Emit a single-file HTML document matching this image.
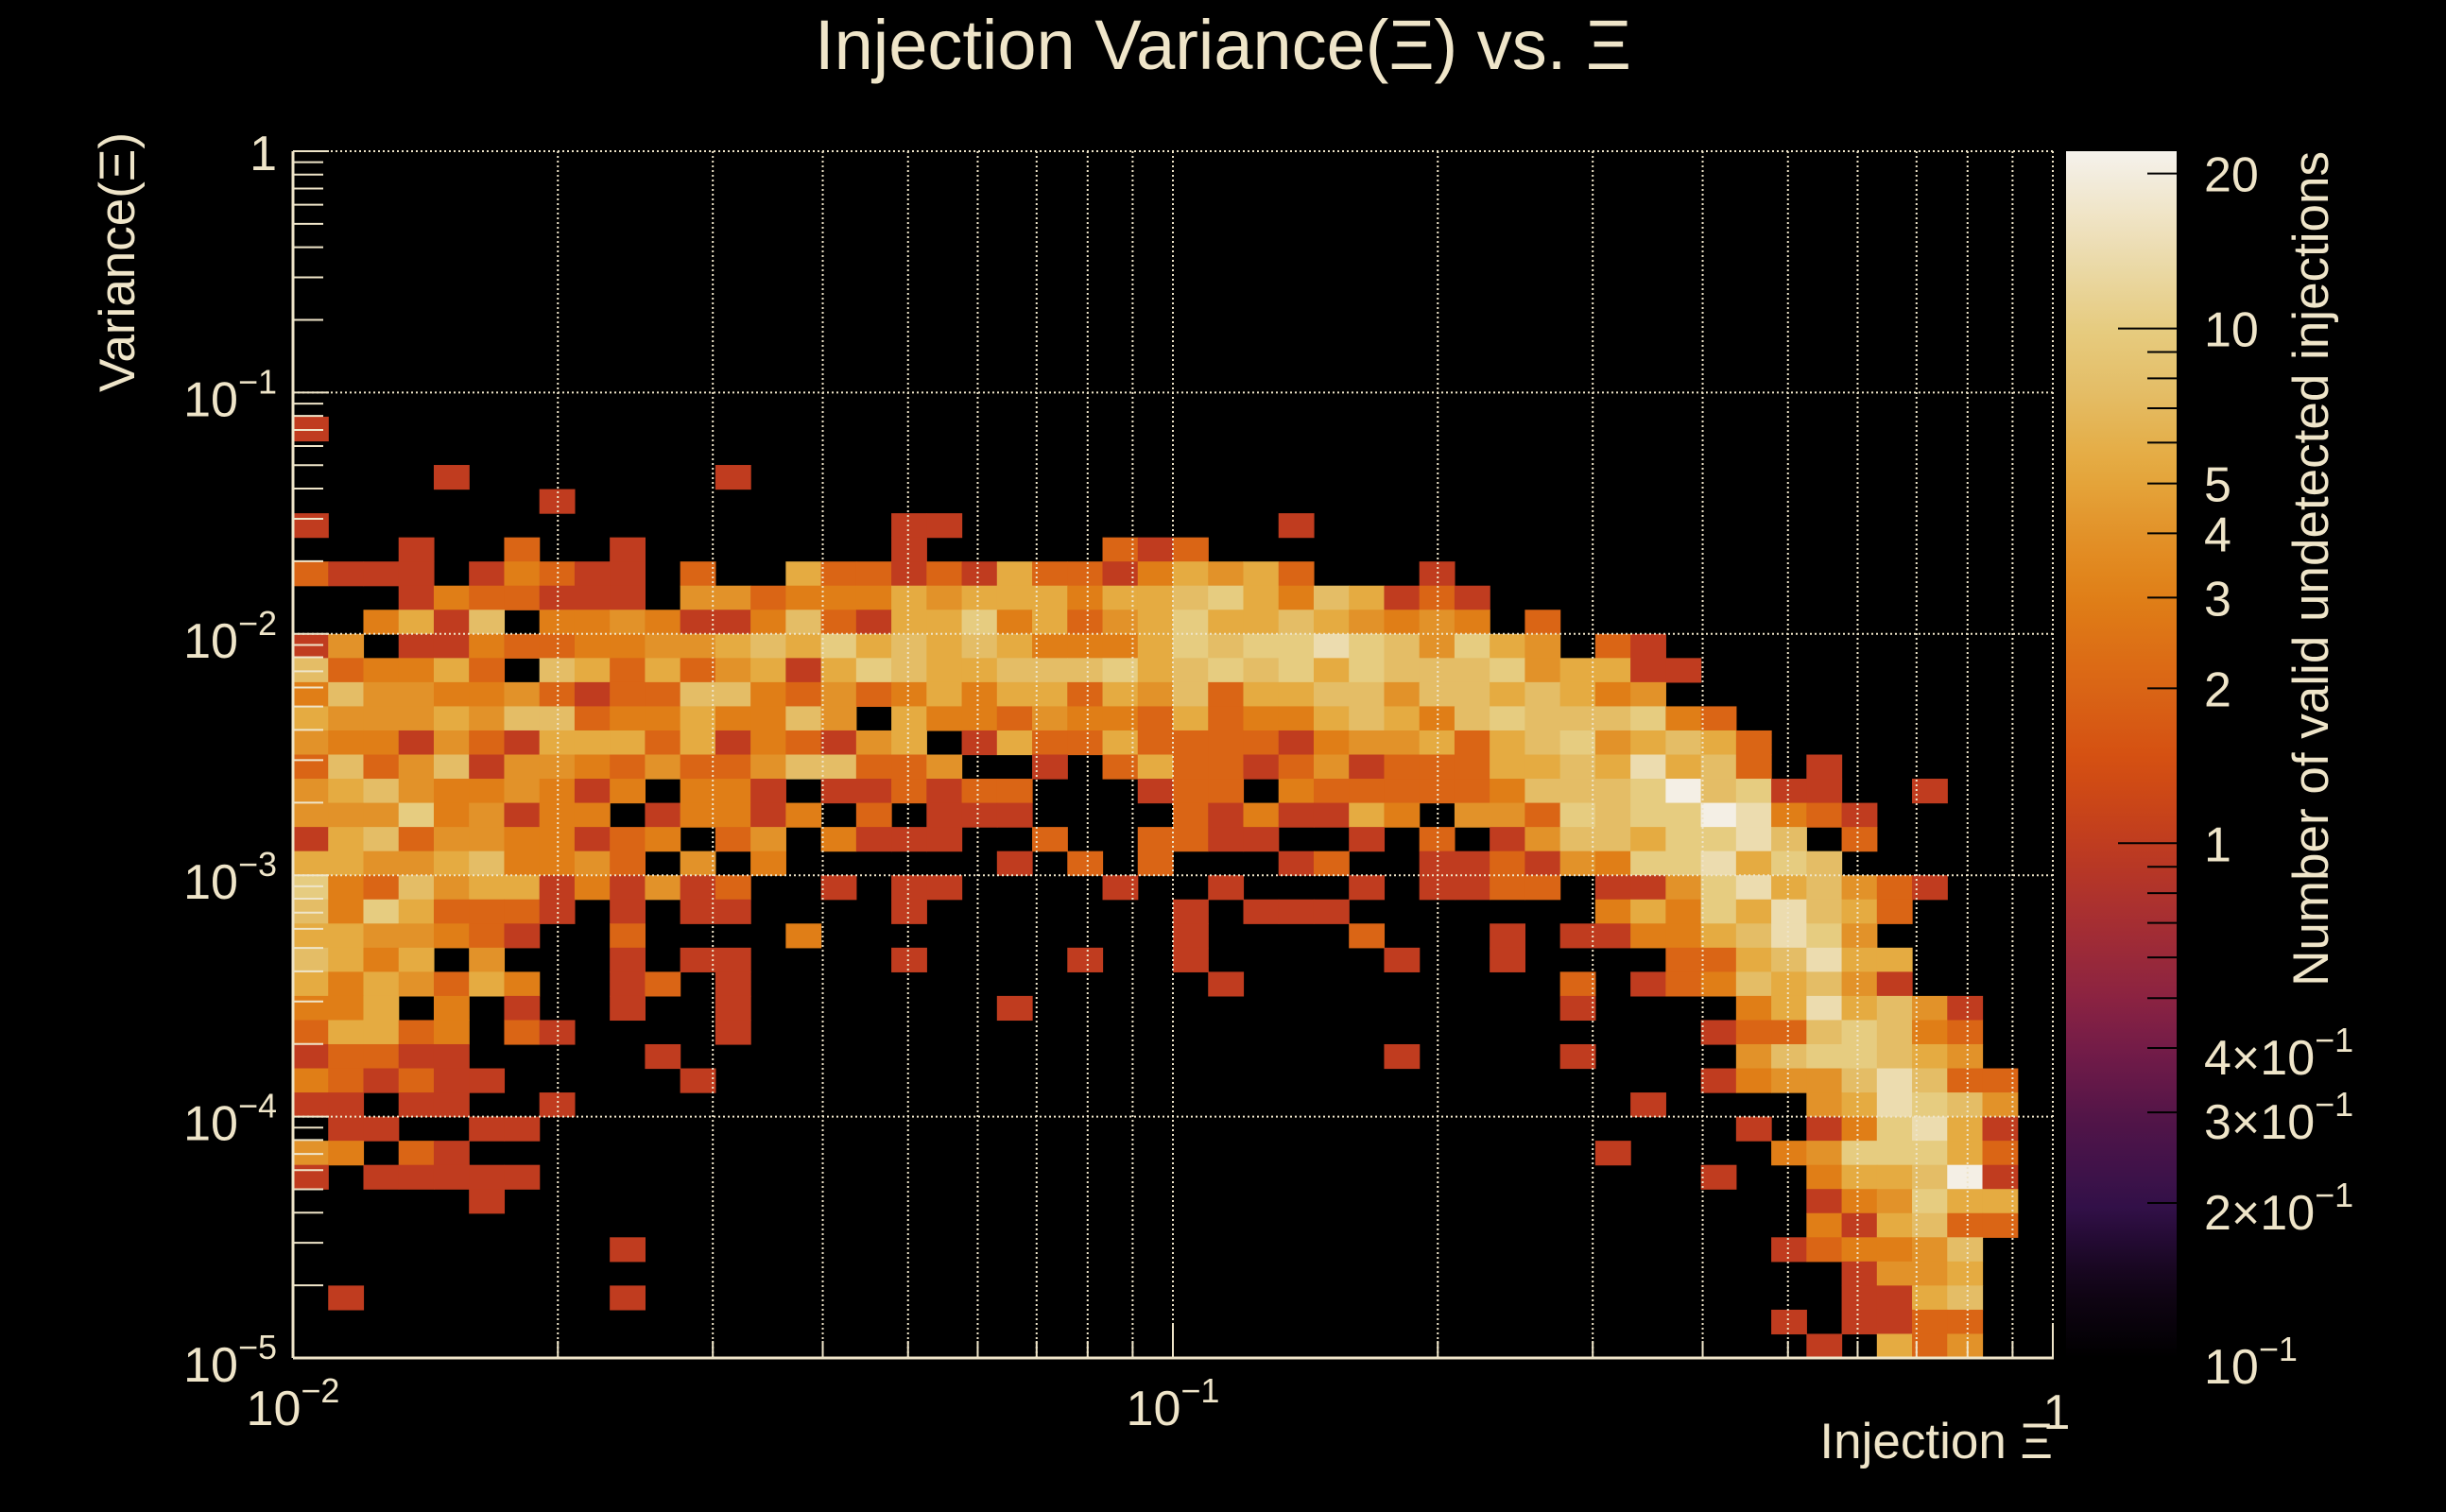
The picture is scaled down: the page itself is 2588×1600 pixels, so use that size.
<!DOCTYPE html>
<html><head><meta charset="utf-8"><title>Injection Variance vs Xi</title>
<style>
html,body{margin:0;padding:0;background:#000;}
svg{display:block;}
text{font-family:"Liberation Sans",sans-serif;fill:#efe5c9;}
</style></head>
<body>
<svg id="chart" width="2588" height="1600" viewBox="0 0 2588 1600" xmlns="http://www.w3.org/2000/svg">
<rect x="0" y="0" width="2588" height="1600" fill="#000"/>
<defs><linearGradient id="cbgrad" x1="0" y1="1" x2="0" y2="0"></linearGradient></defs>
<g id="cells"></g>
<g id="grid"></g>
<g id="axes"></g>
<g id="colorbar"></g>
<text x="1294" y="73" font-size="74" text-anchor="middle">Injection Variance(Ξ) vs. Ξ</text>
<text x="2172" y="1543" font-size="53" text-anchor="end">Injection Ξ</text>
<text transform="translate(142,140) rotate(-90)" font-size="53" text-anchor="end">Variance(Ξ)</text>
<text transform="translate(2463,160) rotate(-90)" font-size="53" text-anchor="end">Number of valid undetected injections</text>
</svg>
<script>
// Heatmap data: 50 rows (top = Variance 1, bottom = 1e-5), 50 log-x bins (0.01..1).
// Each digit is a level code; levelCounts maps code -> count.
const levelCounts = [0, 1, 2, 3, 4, 5.5, 7.5, 10, 14, 21];
const xBinEdgesLog = [-2, 0];
const yBinEdgesLog = [0, -5];
const zRange = [0.1, 22.1];
const Z = "0000000000000000000000000 0000000000000000000000000";
const rows = [
Z,Z,Z,Z,Z,Z,Z,Z,Z,Z,Z,
"1000000000000000000000000 0000000000000000000000000",
Z,
"0000100000001000000000000 0000000000000000000000000",
"0000000100000000000000000 0000000000000000000000000",
"1000000000000000011000000 0001000000000000000000000",
"0001002001000000010000021 2000000000000000000000000",
"2111013211020052212152213 5452000100000000000000000",
"0001322111044233354555355 6753651210000000000000000",
"0035160334311362155735245 7556543430200000000000000",
"1401132233445657565653335 7677876475402100000000000",
"6233520652524515765566675 6767576667455110000000000",
"3644334212266324235355254 6255664665653400000000000",
"5444546623353364053324332 5233565367666732000000000",
"4331421555251321450152252 2221344525674565200000000",
"2624614432422466224001025 2212412225565856201000000",
"4564334313033101121220001 2203222223666796711001000",
"4447341330133130201110000 2131153044276779832100000",
"1562443312302403111002002 2110010201466577860200000",
"5544563342040300000010202 0001200112143778576000000",
"7326455131412001011000010 0100010112201147856421000",
"6375222101011000010000000 1011100000003537586520000",
"5544321002000030000000000 1000020001011335687400000",
"6535040001011000010000100 1000001001000022568550000",
"5354253001201000000000000 0100000000020123656410000",
"3350301001001000000010000 0000000000010000358564100",
"2552302100001000000000000 0000000000000001226763200",
"1221100000100000000000000 0000001000010000467765400",
"3212110000010000000000000 0000000000000001344686220",
"1101100100000000000000000 0000000000000100004587640",
"0110011000000000000000000 0000000000000000101378510",
"4302100000000000000000000 0000000000001000034777520",
"1011111000000000000000000 0000000000000001003556910",
"0000010000000000000000000 0000000000000000001347550",
"0000000000000000000000000 0000000000000000003156220",
"0000000001000000000000000 0000000000000000012334600",
"0000000000000000000000000 0000000000000000000144500",
"0100000001000000000000000 0000000000000000000115600",
"0000000000000000000000000 0000000000000000010112200",
"0000000000000000000000000 0000000000000000001052400"
];
const yTickLabels = ["1", "10", "10", "10", "10", "10"];
const yTickExps = ["", "−1", "−2", "−3", "−4", "−5"];
const xTickLabels = ["10", "10", "1"];
const xTickExps = ["−2", "−1", ""];
const cbTickValues = [0.1, 0.2, 0.3, 0.4, 1, 2, 3, 4, 5, 10, 20];
const cbTickMantissa = ["", "2×", "3×", "4×", "", "", "", "", "", "", ""];
const cbTickBase = ["10", "10", "10", "10", "1", "2", "3", "4", "5", "10", "20"];
const cbTickExp = ["−1", "−1", "−1", "−1", "", "", "", "", "", "", ""];
const cbMinor = [0.5, 0.6, 0.7, 0.8, 0.9, 6, 7, 8, 9];

const NS = "http://www.w3.org/2000/svg";
const P = {x0: 310, x1: 2172, y0: 160, y1: 1437};
const CB = {x0: 2186, x1: 2303};
const NX = 50, NY = 50;
function xPix(v){ const l = Math.log10(v); return P.x0 + (l - xBinEdgesLog[0])/(xBinEdgesLog[1]-xBinEdgesLog[0])*(P.x1-P.x0); }
function yPix(v){ const l = Math.log10(v); return P.y0 + (yBinEdgesLog[0]-l)/(yBinEdgesLog[0]-yBinEdgesLog[1])*(P.y1-P.y0); }
function zT(c){ return Math.log10(c/zRange[0])/Math.log10(zRange[1]/zRange[0]); }
function zPix(c){ return P.y1 - zT(c)*(P.y1-P.y0); }
const stops = [[0,"#000000"],[0.06,"#120517"],[0.128,"#33104a"],[0.2,"#531548"],[0.256,"#741c48"],[0.3,"#8c2341"],[0.36,"#a52e33"],[0.427,"#c03c1f"],[0.49,"#d44e12"],[0.556,"#da6515"],[0.632,"#e07f17"],[0.685,"#e2932a"],[0.74,"#e5aa40"],[0.80,"#e4bd66"],[0.854,"#e6cc80"],[0.917,"#ecdcb0"],[1,"#f5f2ec"]];
function hex(h){ return [1,3,5].map(i=>parseInt(h.substr(i,2),16)); }
function color(t){
  t = Math.max(0, Math.min(1, t));
  for (let i=1;i<stops.length;i++){
    if (t <= stops[i][0]){
      const a = hex(stops[i-1][1]), b = hex(stops[i][1]);
      const f = (t-stops[i-1][0])/(stops[i][0]-stops[i-1][0]);
      return "rgb(" + a.map((v,k)=>Math.round(v+(b[k]-v)*f)).join(",") + ")";
    }
  }
  return stops[stops.length-1][1];
}
function mk(tag, attrs, parent){
  const e = document.createElementNS(NS, tag);
  for (const k in attrs) e.setAttribute(k, attrs[k]);
  parent.appendChild(e); return e;
}

const cellsG = document.getElementById("cells");
const lx0 = xBinEdgesLog[0], lx1 = xBinEdgesLog[1], ly0 = yBinEdgesLog[0], ly1 = yBinEdgesLog[1];
rows.forEach((rs, r) => {
  const s = rs.replace(/ /g, "");
  for (let c=0; c<NX; c++){
    const code = +s[c];
    if (!code) continue;
    const cnt = levelCounts[code];
    const xa = xPix(Math.pow(10, lx0 + (lx1-lx0)*c/NX));
    const xb = xPix(Math.pow(10, lx0 + (lx1-lx0)*(c+1)/NX));
    const ya = yPix(Math.pow(10, ly0 + (ly1-ly0)*r/NY));
    const yb = yPix(Math.pow(10, ly0 + (ly1-ly0)*(r+1)/NY));
    const el = mk("rect", {x: xa.toFixed(2), y: ya.toFixed(2), width: (xb-xa+0.6).toFixed(2), height: (yb-ya+0.6).toFixed(2), fill: color(zT(cnt))}, cellsG);
    
    
  }
});

const gridG = document.getElementById("grid");
const gs = {stroke: "#efe5c9", "stroke-width": 2, "stroke-dasharray": "2 3"};
for (let d=-2; d<0; d++){
  for (let m=1; m<=9; m++){
    if (d===-2 && m===1) continue;
    const x = xPix(m*Math.pow(10,d));
    const el = mk("line", Object.assign({x1:x, x2:x, y1:P.y0, y2:P.y1}, gs), gridG);
    
    
  }
}
for (let d=-4; d<=-1; d++){
  const y = yPix(Math.pow(10,d));
  const el = mk("line", Object.assign({x1:P.x0, x2:P.x1, y1:y, y2:y}, gs), gridG);
  
  
}
mk("line", Object.assign({x1:P.x0, x2:P.x1, y1:P.y0, y2:P.y0}, gs), gridG);
mk("line", Object.assign({x1:P.x1, x2:P.x1, y1:P.y0, y2:P.y1}, gs), gridG);

const axG = document.getElementById("axes");
const as = {stroke: "#efe5c9", "stroke-width": 3};
let e;
e = mk("line", Object.assign({x1:P.x0, x2:P.x1+1, y1:P.y1, y2:P.y1}, as), axG);


e = mk("line", Object.assign({x1:P.x0, x2:P.x0, y1:P.y0, y2:P.y1}, as), axG);


for (let d=-5; d<=0; d++){
  for (let m=1; m<=9; m++){
    const v = m*Math.pow(10,d);
    if (v > 1.0001) continue;
    const y = yPix(v);
    const len = m===1 ? 38 : 32;
    e = mk("line", {x1:P.x0, x2:P.x0+len, y1:y, y2:y, stroke:"#efe5c9", "stroke-width":2}, axG);
    
    
  }
}
for (let d=-2; d<=0; d++){
  for (let m=1; m<=9; m++){
    const v = m*Math.pow(10,d);
    if (v > 1.0001) continue;
    const x = xPix(v);
    const len = m===1 ? 36 : 18;
    e = mk("line", {x1:x, x2:x, y1:P.y1, y2:P.y1-len, stroke:"#efe5c9", "stroke-width":2}, axG);
    
    
  }
}
yTickLabels.forEach((lab, i) => {
  const y = yPix(Math.pow(10, -i));
  const t = mk("text", {x: 293, y: y + (i===0 ? 20 : 25), "font-size": 52, "text-anchor": "end"}, axG);
  
  
  t.appendChild(document.createTextNode(lab));
  if (yTickExps[i]){
    const sp = mk("tspan", {dy: -24, "font-size": 36}, t);
    sp.textContent = yTickExps[i];
  }
});
xTickLabels.forEach((lab, i) => {
  const x = xPix(Math.pow(10, i-2));
  const t = mk("text", {x: i===2 ? x+4 : x, y: i===2 ? 1512 : 1508, "font-size": 52, "text-anchor": "middle"}, axG);
  
  
  t.appendChild(document.createTextNode(lab));
  if (xTickExps[i]){
    const sp = mk("tspan", {dy: -24, "font-size": 36}, t);
    sp.textContent = xTickExps[i];
  }
});

const grad = document.getElementById("cbgrad");
for (let i=0;i<=40;i++){
  const t = i/40;
  mk("stop", {offset: t, "stop-color": color(t)}, grad);
}
const cbG = document.getElementById("colorbar");
e = mk("rect", {x: CB.x0, y: P.y0, width: CB.x1-CB.x0, height: P.y1-P.y0, fill: "url(#cbgrad)"}, cbG);


cbTickValues.forEach((v, i) => {
  const y = zPix(v);
  const major = (v===0.1 || v===1 || v===10);
  e = mk("line", {x1: CB.x1 - (major?62:31), x2: CB.x1, y1: y, y2: y, stroke: "#000", "stroke-width": 2}, cbG);
  
  
  const off = cbTickExp[i] ? 28 : 19;
  const t = mk("text", {x: 2332, y: Math.min(y + off, 1464), "font-size": 52}, cbG);
  
  
  t.appendChild(document.createTextNode(cbTickMantissa[i] + cbTickBase[i]));
  if (cbTickExp[i]){
    const sp = mk("tspan", {dy: -24, "font-size": 36}, t);
    sp.textContent = cbTickExp[i];
  }
});
cbMinor.forEach(v => {
  const y = zPix(v);
  e = mk("line", {x1: CB.x1 - 31, x2: CB.x1, y1: y, y2: y, stroke: "#000", "stroke-width": 2}, cbG);
  
  
});
</script>
</body></html>
